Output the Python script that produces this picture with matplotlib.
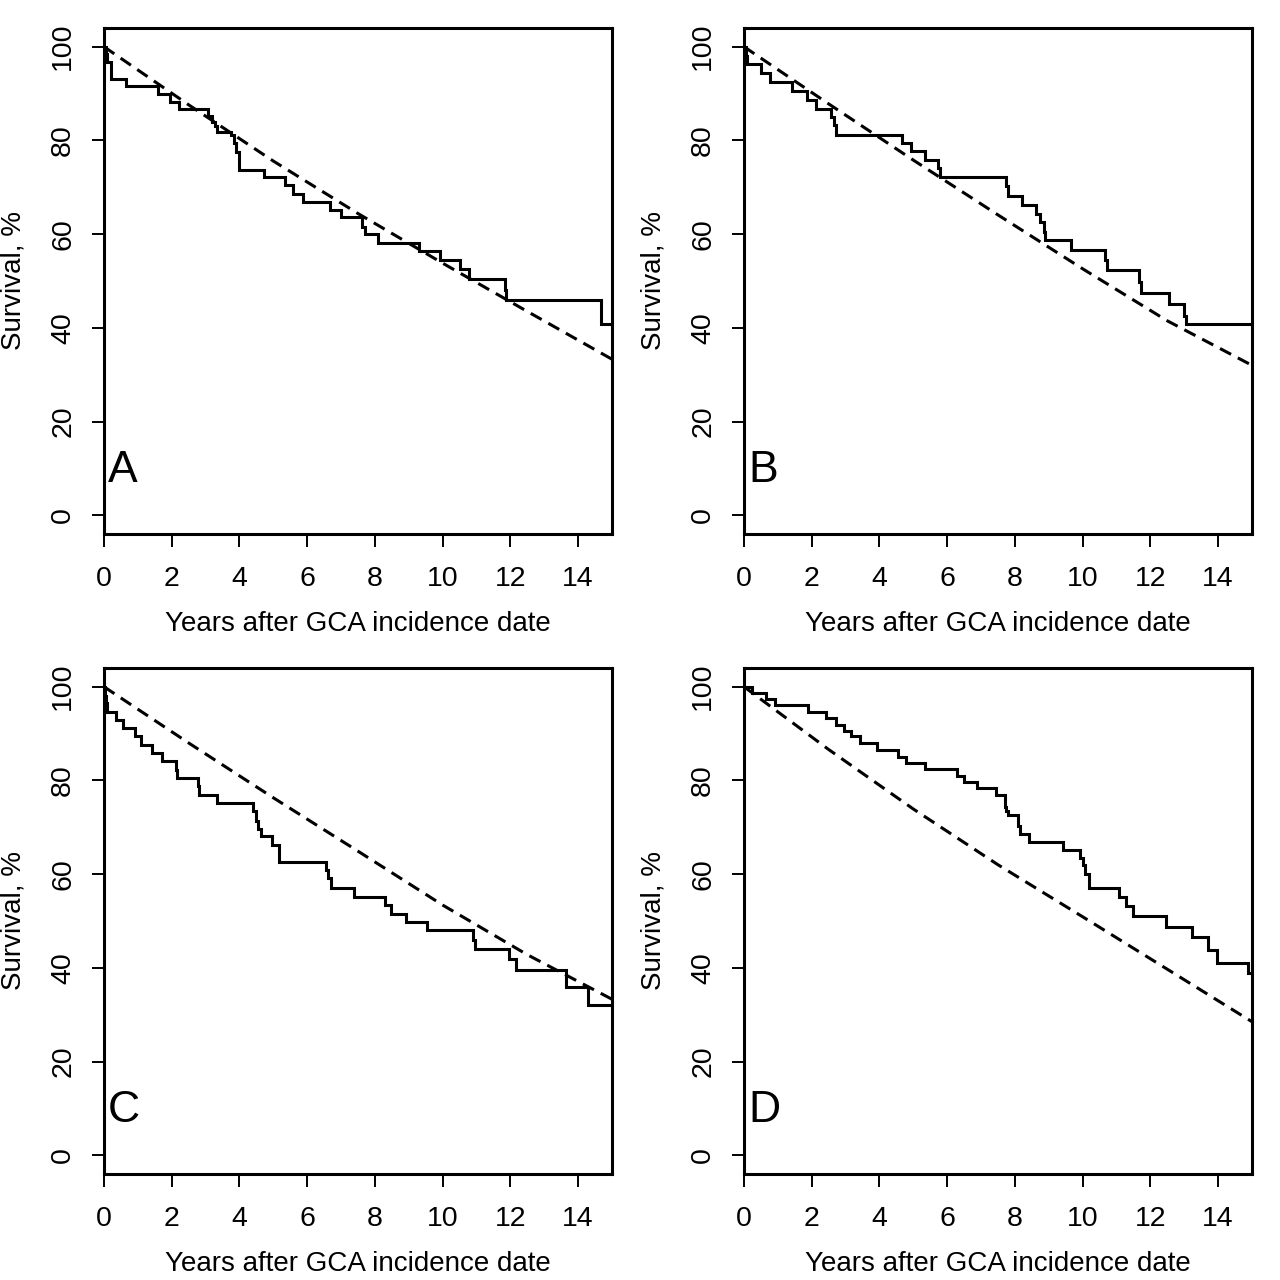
import matplotlib
matplotlib.use("Agg")
import matplotlib.pyplot as plt

plt.rcParams['font.family'] = ['Liberation Sans', 'DejaVu Sans']
plt.rcParams['lines.scale_dashes'] = False

# ---- Data ----
panel_labels = ["A", "B", "C", "D"]
xlabel_text = "Years after GCA incidence date"
ylabel_text = "Survival, %"
x_ticks = [0, 2, 4, 6, 8, 10, 12, 14]
y_ticks = [0, 20, 40, 60, 80, 100]

# Observed Kaplan-Meier survival (step, post)
a_time = [0, 0.05, 0.1, 0.2, 0.64, 1.58, 1.95, 2.2, 3.08, 3.2, 3.28, 3.35, 3.75, 3.85, 3.9,
          3.99, 4.73, 5.33, 5.58, 5.89, 6.68, 7.0, 7.63, 7.7, 8.1, 9.3, 9.92, 10.52, 10.78,
          11.85, 11.88, 14.68]
a_surv = [100, 98.4, 96.7, 93.2, 91.7, 90.0, 88.3, 86.7, 85.3, 84.0, 83.0, 81.9, 81.2, 79.5, 77.5,
          73.6, 72.1, 70.4, 68.6, 66.8, 65.2, 63.6, 61.6, 60.0, 58.2, 56.4, 54.4, 52.5, 50.4,
          48.0, 46.0, 40.9]

b_time = [0, 0.05, 0.1, 0.49, 0.76, 1.43, 1.87, 2.12, 2.56, 2.65, 2.73, 4.68, 4.93, 5.33, 5.72,
          5.80, 7.74, 7.8, 8.21, 8.62, 8.75, 8.85, 8.9, 9.65, 10.66, 10.72, 11.67, 11.72, 12.54,
          13.0, 13.05]
b_surv = [100, 98.1, 96.3, 94.3, 92.4, 90.6, 88.7, 86.8, 85.1, 83.2, 81.2, 79.4, 77.7, 75.8, 74.2,
          72.1, 70.2, 68.2, 66.3, 64.4, 62.5, 60.5, 58.7, 56.7, 54.5, 52.4, 49.8, 47.5, 45.1,
          42.6, 40.9]

c_time = [0, 0.03, 0.06, 0.1, 0.35, 0.56, 0.92, 1.08, 1.43, 1.71, 2.12, 2.15, 2.78, 2.8, 3.35,
          4.41, 4.5, 4.55, 4.65, 4.96, 5.18, 6.56, 6.62, 6.71, 7.38, 8.31, 8.46, 8.92, 9.55,
          10.9, 10.95, 11.96, 12.16, 13.65, 14.3]
c_surv = [100, 98.0, 96.5, 94.7, 93.0, 91.2, 89.4, 87.6, 85.9, 84.1, 82.3, 80.6, 78.8, 76.8, 75.1,
          73.4, 71.3, 69.7, 68.1, 66.3, 62.5, 60.9, 59.1, 57.1, 55.2, 53.4, 51.5, 49.7, 48.0,
          45.9, 44.1, 41.8, 39.5, 36.0, 32.0]

d_time = [0, 0.25, 0.66, 0.92, 1.9, 2.42, 2.71, 2.96, 3.16, 3.42, 3.94, 4.54, 4.78, 5.33, 6.28,
          6.51, 6.87, 7.45, 7.70, 7.75, 7.8, 8.1, 8.15, 8.43, 9.43, 9.92, 10.0, 10.08, 10.19,
          11.06, 11.28, 11.48, 12.46, 13.22, 13.7, 13.98, 14.88]
d_surv = [100, 98.6, 97.4, 96.2, 94.7, 93.3, 91.9, 90.6, 89.4, 88.0, 86.6, 85.1, 83.7, 82.4, 81.0,
          79.6, 78.4, 77.0, 74.4, 73.5, 72.7, 70.3, 68.5, 66.8, 65.2, 63.4, 62.0, 60.1, 57.0,
          55.1, 53.1, 51.1, 48.7, 46.5, 43.9, 41.1, 38.8]

# Expected survival (dashed), read every 2.5 years
exp_time = [0, 2.5, 5.0, 7.5, 10.0, 12.5, 15.0]
a_exp_surv = [100, 87.6, 75.6, 64.4, 53.8, 43.5, 33.3]
b_exp_surv = [100, 87.8, 75.8, 64.1, 52.6, 41.5, 32.0]
c_exp_surv = [100, 88.0, 76.3, 64.9, 53.4, 42.8, 33.3]
d_exp_surv = [100, 86.6, 73.9, 62.0, 50.9, 39.7, 28.5]

observed = [(a_time, a_surv), (b_time, b_surv), (c_time, c_surv), (d_time, d_surv)]
expected = [a_exp_surv, b_exp_surv, c_exp_surv, d_exp_surv]

x_max = 15

fig = plt.figure(figsize=(12.8, 12.8), dpi=100)
W = 1280.0
positions = [(104, 28, 612, 534), (744, 28, 1252, 534),
             (104, 668, 612, 1174), (744, 668, 1252, 1174)]

for i, (x0, y0, x1, y1) in enumerate(positions):
    ax = fig.add_axes([x0 / W, 1 - y1 / W, (x1 - x0) / W, (y1 - y0) / W])
    t, s = observed[i]
    ax.step(list(t) + [x_max], list(s) + [s[-1]], where='post', color='black', lw=2.2,
            solid_joinstyle='miter')
    ln, = ax.plot(exp_time, expected[i], color='black', lw=2.2)
    ln.set_dashes([9.0, 5.5])
    ax.set_xlim(0, x_max)
    ax.set_ylim(-4, 104)
    ax.set_xticks(x_ticks)
    ax.set_yticks(y_ticks)
    ax.tick_params(axis='both', direction='out', length=9, width=1.4, labelsize=20.5)
    ax.tick_params(axis='x', pad=14)
    ax.tick_params(axis='y', pad=11)
    for lab in ax.get_yticklabels():
        lab.set_rotation(90)
        lab.set_va('center')
    for sp in ax.spines.values():
        sp.set_linewidth(2.2)
    ax.set_xlabel(xlabel_text, fontsize=20)
    ax.set_ylabel(ylabel_text, fontsize=20)
    ax.xaxis.set_label_coords(0.5, -0.153)
    ax.yaxis.set_label_coords(-0.152, 0.5)
    ax.text(0.008, 0.125, panel_labels[i], transform=ax.transAxes, fontsize=32,
            ha='left', va='center')

fig.savefig("out.png", dpi=100)
